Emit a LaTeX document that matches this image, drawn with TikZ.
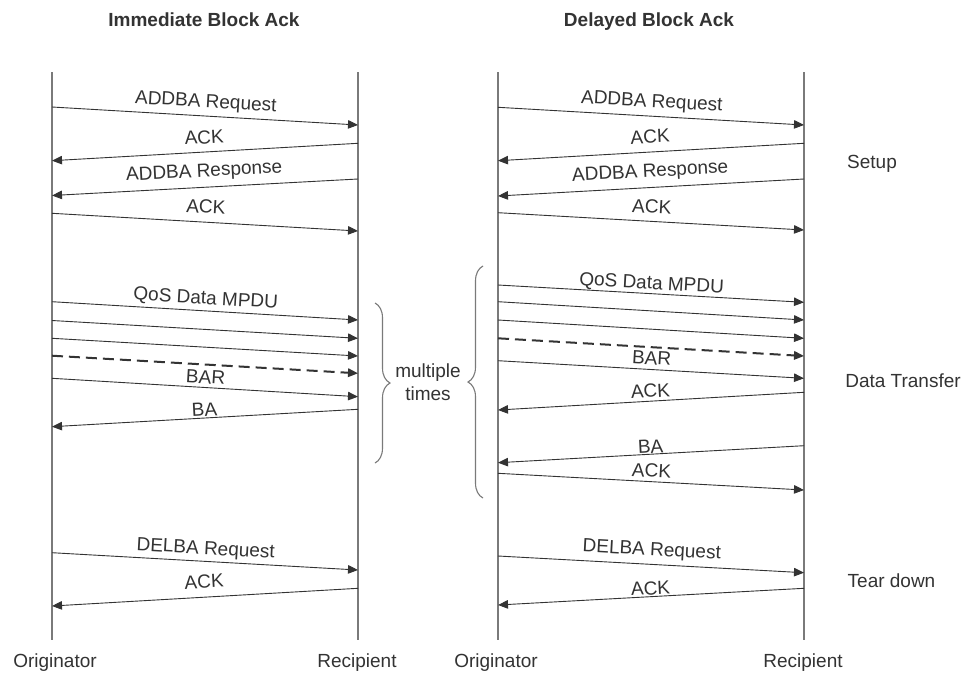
\documentclass[tikz,border=0pt]{standalone}
\usepackage{fontspec}
\setmainfont{Liberation Sans}
\usetikzlibrary{arrows.meta,decorations.pathreplacing}
\definecolor{ink}{HTML}{333333}
\definecolor{life}{HTML}{7A7A7A}
\begin{document}
\begin{tikzpicture}[x=1pt,y=-1pt,
  lifeline/.style={draw=life, line width=1.1pt},
  msg/.style={draw=ink, line width=0.9pt, -{Triangle[length=10pt,width=8.5pt]}},
  dmsg/.style={msg, line width=2pt, dash pattern=on 11pt off 6pt},
  lbl/.style={font=\fontsize{19}{22}\selectfont, text=ink, anchor=base, sloped, inner sep=0pt, midway},
  txt/.style={font=\fontsize{19}{23}\selectfont, text=ink, inner sep=0pt, anchor=base},
  ttl/.style={font=\fontsize{19}{23}\selectfont\bfseries, text=ink, inner sep=0pt, anchor=base},
  brc/.style={draw=life, line width=1.1pt, decorate, decoration={brace, amplitude=15pt}}
]
\fill[white] (0,0) rectangle (963,672);
\useasboundingbox (0,0) rectangle (963,672);

% titles
\node[ttl] (t1) at (204,26.5) {Immediate Block Ack};
\node[ttl] (t2) at (649,26.5) {Delayed Block Ack};

% lifelines
\coordinate (LOt) at (52,72);  \coordinate (LOb) at (52,640);
\coordinate (LRt) at (358,72); \coordinate (LRb) at (358,640);
\coordinate (ROt) at (498,72); \coordinate (ROb) at (498,640);
\coordinate (RRt) at (804,72); \coordinate (RRb) at (804,640);
\draw[lifeline] (LOt) -- (LOb);
\draw[lifeline] (LRt) -- (LRb);
\draw[lifeline] (ROt) -- (ROb);
\draw[lifeline] (RRt) -- (RRb);

% bottom labels
\node[txt] (lo) at (55,667) {Originator};
\node[txt] (lr) at (357,667) {Recipient};
\node[txt] (ro) at (496,667) {Originator};
\node[txt] (rr) at (803,667) {Recipient};

% ---------- left: immediate block ack ----------
\coordinate (a1s) at (52,107);    \coordinate (a1e) at (358,125);
\coordinate (a2s) at (358,143.3); \coordinate (a2e) at (52,160.7);
\coordinate (a3s) at (358,179);   \coordinate (a3e) at (52,195.5);
\coordinate (a4s) at (52,213.3);  \coordinate (a4e) at (358,231);
\coordinate (a5s) at (52,301.7);  \coordinate (a5e) at (358,320);
\coordinate (a6s) at (52,320.5);  \coordinate (a6e) at (358,338.3);
\coordinate (a7s) at (52,338.3);  \coordinate (a7e) at (358,356);
\coordinate (a8s) at (52,355.7);  \coordinate (a8e) at (358,373.3);
\coordinate (a9s) at (52,378.3);  \coordinate (a9e) at (358,396.7);
\coordinate (a10s) at (358,409.3);\coordinate (a10e) at (52,426.7);
\coordinate (a11s) at (52,552.7); \coordinate (a11e) at (358,570);
\coordinate (a12s) at (358,588.3);\coordinate (a12e) at (52,606);

\draw[msg] (a1s) -- node[lbl,yshift=8.6pt] (la1) {ADDBA Request} (a1e);
\draw[msg] (a2s) -- node[lbl,yshift=8.2pt] (la2) {ACK} (a2e);
\draw[msg] (a3s) -- node[lbl,yshift=10.5pt] (la3) {ADDBA Response} (a3e);
\draw[msg] (a4s) -- node[lbl,yshift=9pt] (la4) {ACK} (a4e);
\draw[msg] (a5s) -- node[lbl,yshift=6.7pt] (la5) {QoS Data MPDU} (a5e);
\draw[msg] (a6s) -- (a6e);
\draw[msg] (a7s) -- (a7e);
\draw[dmsg] (a8s) -- (a8e);
\draw[msg] (a9s) -- node[lbl,yshift=4pt] (la9) {BAR} (a9e);
\draw[msg] (a10s) -- node[lbl,yshift=2pt] (la10) {BA} (a10e);
\draw[msg] (a11s) -- node[lbl,yshift=7pt] (la11) {DELBA Request} (a11e);
\draw[msg] (a12s) -- node[lbl,yshift=9pt] (la12) {ACK} (a12e);

% brace + text
\coordinate (bl1) at (375,303); \coordinate (bl2) at (375,463);
\draw[brc] (bl1) -- (bl2);
\coordinate (br1) at (483,498); \coordinate (br2) at (483,266);
\draw[brc] (br1) -- (br2);
\node[txt] (mt1) at (428,377) {multiple};
\node[txt] (mt2) at (428,400) {times};

% ---------- right: delayed block ack ----------
\coordinate (b1s) at (498,107.3);  \coordinate (b1e) at (804,125);
\coordinate (b2s) at (804,143.3);  \coordinate (b2e) at (498,160.7);
\coordinate (b3s) at (804,179);    \coordinate (b3e) at (498,196);
\coordinate (b4s) at (498,212.7);  \coordinate (b4e) at (804,230);
\coordinate (b5s) at (498,285);    \coordinate (b5e) at (804,302.3);
\coordinate (b6s) at (498,301.7);  \coordinate (b6e) at (804,320);
\coordinate (b7s) at (498,320);    \coordinate (b7e) at (804,338.3);
\coordinate (b8s) at (498,338.3);  \coordinate (b8e) at (804,356);
\coordinate (b9s) at (498,360.7);  \coordinate (b9e) at (804,378.3);
\coordinate (b10s) at (804,392.3); \coordinate (b10e) at (498,410);
\coordinate (b11s) at (804,445.7); \coordinate (b11e) at (498,462.7);
\coordinate (b12s) at (498,473.3); \coordinate (b12e) at (804,490);
\coordinate (b13s) at (498,556);   \coordinate (b13e) at (804,572.7);
\coordinate (b14s) at (804,588.3); \coordinate (b14e) at (498,605);

\draw[msg] (b1s) -- node[lbl,yshift=9pt] (lb1) {ADDBA Request} (b1e);
\draw[msg] (b2s) -- node[lbl,yshift=9pt] (lb2) {ACK} (b2e);
\draw[msg] (b3s) -- node[lbl,yshift=10.5pt] (lb3) {ADDBA Response} (b3e);
\draw[msg] (b4s) -- node[lbl,yshift=8pt] (lb4) {ACK} (b4e);
\draw[msg] (b5s) -- node[lbl,yshift=4.5pt] (lb5) {QoS Data MPDU} (b5e);
\draw[msg] (b6s) -- (b6e);
\draw[msg] (b7s) -- (b7e);
\draw[dmsg] (b8s) -- (b8e);
\draw[msg] (b9s) -- node[lbl,yshift=5pt] (lb9) {BAR} (b9e);
\draw[msg] (b10s) -- node[lbl,yshift=3.7pt] (lb10) {ACK} (b10e);
\draw[msg] (b11s) -- node[lbl,yshift=1pt] (lb11) {BA} (b11e);
\draw[msg] (b12s) -- node[lbl,yshift=4.4pt] (lb12) {ACK} (b12e);
\draw[msg] (b13s) -- node[lbl,yshift=9pt] (lb13) {DELBA Request} (b13e);
\draw[msg] (b14s) -- node[lbl,yshift=2pt] (lb14) {ACK} (b14e);

% phase labels
\node[txt] (su) at (872,168) {Setup};
\node[txt] (dt) at (903,387) {Data Transfer};
\node[txt] (td) at (891.5,587) {Tear down};
\end{tikzpicture}
\end{document}
